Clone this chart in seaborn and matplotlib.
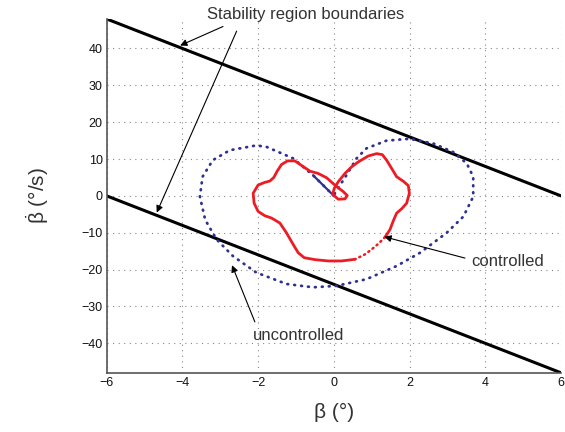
import matplotlib.pyplot as plt
import seaborn as sns
import pandas as pd

# stability boundaries (beta, beta_dot)
upper_x = [-6, 6]
upper_y = [48, 0]
lower_x = [-6, 6]
lower_y = [0, -48]

# uncontrolled trajectory
unc_x = [0.0, -0.55, -1.08, -1.78, -2.05, -2.75, -3.2, -3.47, -3.54, -3.4, -3.1, -2.67,
         -2.05, -1.25, -0.55, 0.07, 0.86, 1.66, 2.28, 2.98, 3.42, 3.68, 3.68, 3.51,
         3.15, 2.63, 2.0, 1.39, 0.86, 0.6, 0.33, 0.03, 0.0]
unc_y = [0.0, 5.6, 10.2, 13.3, 13.7, 12.4, 9.7, 5.2, -0.2, -6.5, -11.8, -16.3,
         -20.8, -23.9, -24.8, -24.4, -22.6, -19.0, -15.4, -10.0, -5.6, -0.2, 5.2, 8.8,
         11.9, 14.2, 15.5, 15.0, 12.9, 10.2, 5.6, 0.8, 0.0]

# controlled trajectory
con_x = [-0.035, 0.009, 0.115, 0.291, 0.467, 0.644, 0.908, 1.129, 1.279, 1.393,
         1.526, 1.658, 1.834, 1.966, 1.993, 1.922, 1.79, 1.658, 1.57, 1.481,
         1.349, 1.173, 0.996, 0.82, 0.556, 0.203, -0.15, -0.503, -0.785, -0.944,
         -1.076, -1.252, -1.429, -1.649, -1.825, -2.002, -2.108, -2.134, -2.002,
         -1.825, -1.693, -1.587, -1.499, -1.385, -1.226, -1.032, -0.838, -0.635,
         -0.415, -0.194, 0.044, 0.247, 0.353, 0.291, 0.115, -0.035]
con_y = [0.45, 2.06, 3.85, 6.09, 7.88, 9.23, 10.84, 11.47, 11.2, 9.68,
         7.44, 5.2, 3.97, 2.78, 0.72, -1.97, -3.49, -4.66, -6.72, -9.14,
         -11.2, -12.99, -14.52, -15.86, -17.2, -17.65, -17.65, -17.29, -16.76, -15.41,
         -13.17, -10.04, -7.35, -6.0, -5.38, -4.21, -1.97, 0.72, 2.96,
         3.67, 4.03, 5.02, 6.72, 8.51, 9.5, 9.5, 8.15, 6.72,
         6.09, 4.93, 2.78, 1.17, 0.09, -0.81, -0.9, 0.45]

xticks = [-6, -4, -2, 0, 2, 4, 6]
yticks = [-40, -30, -20, -10, 0, 10, 20, 30, 40]

sns.set_style("white")
plt.rcParams['font.family'] = ['Liberation Sans', 'DejaVu Sans']
plt.rcParams['mathtext.fontset'] = 'custom'
plt.rcParams['mathtext.rm'] = 'Liberation Sans'
plt.rcParams['mathtext.it'] = 'Liberation Sans'

fig = plt.figure(figsize=(5.65, 4.32), dpi=100)
ax = fig.add_axes([0.189, 0.137, 0.804, 0.819])

unc = pd.DataFrame({"x": unc_x, "y": unc_y})
con = pd.DataFrame({"x": con_x, "y": con_y})
# the piece of the controlled curve that appears dotted
solid_a = con.iloc[:21]
dotted = con.iloc[20:25]
solid_b = con.iloc[24:]

sns.lineplot(x=upper_x, y=upper_y, ax=ax, color="black", lw=2.2)
sns.lineplot(x=lower_x, y=lower_y, ax=ax, color="black", lw=2.2)
sns.lineplot(data=unc, x="x", y="y", sort=False, estimator=None, ax=ax,
             color="#2e3192", lw=2.0, linestyle=(0, (0.3, 2.2)),
             dash_capstyle="round")
# dense stretch near the origin looks like a solid stroke
sns.lineplot(data=unc.iloc[:2], x="x", y="y", sort=False, estimator=None, ax=ax,
             color="#2e3192", lw=1.6)
for part in [solid_a, solid_b]:
    sns.lineplot(data=part, x="x", y="y", sort=False, estimator=None, ax=ax,
                 color="#ed1c24", lw=2.0, solid_joinstyle="round",
                 solid_capstyle="round")
sns.lineplot(data=dotted, x="x", y="y", sort=False, estimator=None, ax=ax,
             color="#ed1c24", lw=1.8, linestyle=(0, (0.5, 1.6)),
             dash_capstyle="round")

ax.set_xlim(-6, 6)
ax.set_ylim(-48, 48)
ax.set_xticks(xticks)
ax.set_yticks(yticks)
ax.set_xticklabels([str(t).replace("-", "\u2212") for t in xticks])
ax.set_yticklabels([str(t).replace("-", "\u2212") for t in yticks])
ax.set_yticks(range(-48, 49, 2), minor=True)
ax.tick_params(axis="both", which="major", direction="in", length=4,
               labelsize=9, labelcolor="#111111", color="#555555", pad=3)
ax.tick_params(axis="y", which="minor", direction="in", length=2, color="#777777")
ax.grid(True, which="major", color="#888888", linestyle=(0, (1, 4)), lw=0.8)
for s in ["top", "right"]:
    ax.spines[s].set_visible(False)
for s in ["left", "bottom"]:
    ax.spines[s].set_color("#555555")
    ax.spines[s].set_linewidth(1.2)

ax.set_xlabel("\u03b2 (\u00b0)", fontsize=15, color="#333333", labelpad=10)
ax.set_ylabel("$\\dot{\\beta}$ (\u00b0/s)", fontsize=15, color="#333333", labelpad=22)

arrow = dict(arrowstyle="-|>", color="black", lw=0.8, mutation_scale=10)
ax.annotate("Stability region boundaries", xy=(-4.13, 40.5), xytext=(-0.74, 49.2),
            fontsize=12, color="#333333", ha="center", va="center",
            arrowprops=dict(arrow, relpos=(0.13, 0.0)),
            annotation_clip=False)
ax.annotate("", xy=(-4.71, -5.2), xytext=(-2.54, 45.4),
            arrowprops=arrow, annotation_clip=False)
ax.annotate("controlled", xy=(1.26, -10.9), xytext=(4.58, -17.7),
            fontsize=12, color="#333333", ha="center", va="center",
            arrowprops=dict(arrow, relpos=(0.0, 0.6)))
ax.annotate("uncontrolled", xy=(-2.72, -18.1), xytext=(-0.94, -37.8),
            fontsize=12, color="#333333", ha="center", va="center",
            arrowprops=dict(arrow, relpos=(0.05, 1.0)))

fig.savefig("out.png", dpi=100)
